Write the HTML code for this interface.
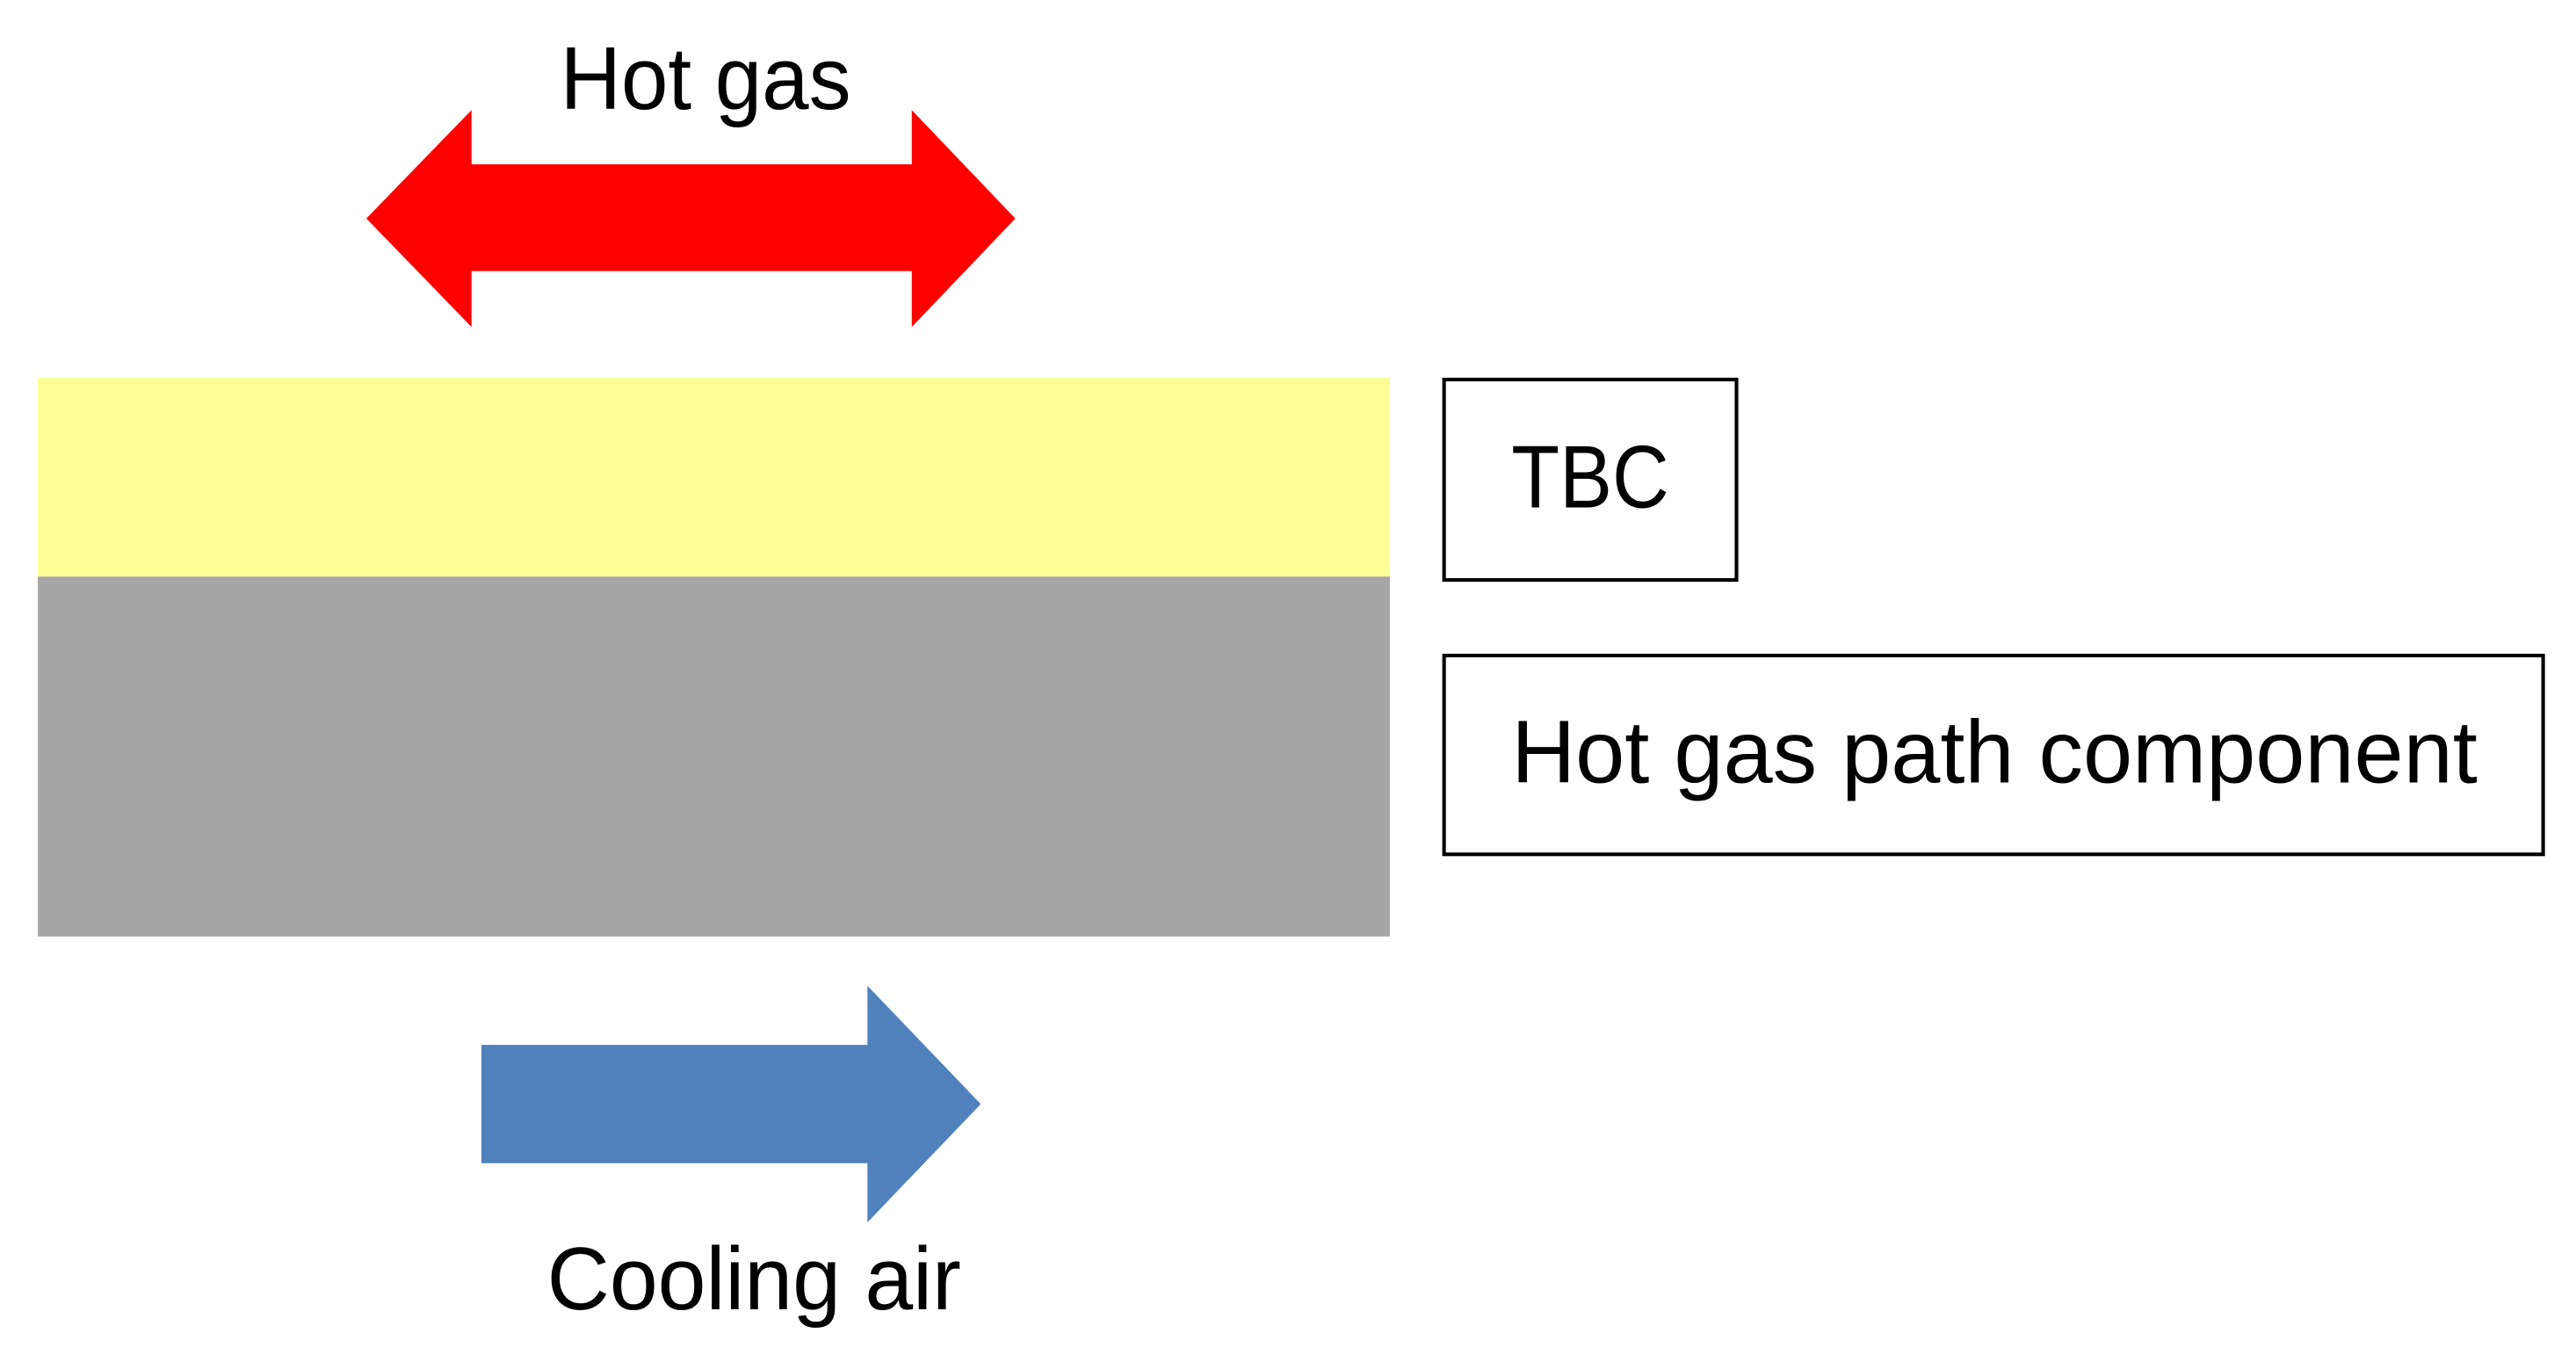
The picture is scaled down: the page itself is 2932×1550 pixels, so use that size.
<!DOCTYPE html>
<html><head><meta charset="utf-8"><style>
html,body{margin:0;padding:0;background:#fff;width:2932px;height:1550px;overflow:hidden}
svg{display:block}
text{font-family:"Liberation Sans",sans-serif;fill:#000}
</style></head><body>
<svg width="2932" height="1550" viewBox="0 0 1568 829" preserveAspectRatio="none" xmlns="http://www.w3.org/2000/svg">
<rect x="0" y="0" width="1568" height="829" fill="#fff"/>
<polygon points="223,133 287,67 287,100 555,100 555,67 618,133 555,199 555,165 287,165 287,199" fill="#ff0000"/>
<rect x="23" y="230" width="823" height="121" fill="#fdfd96"/>
<rect x="23" y="351" width="823" height="219" fill="#a6a6a6"/>
<rect x="879" y="231" width="178" height="122" fill="#fff" stroke="#000" stroke-width="2.2"/>
<rect x="879" y="399" width="669" height="121" fill="#fff" stroke="#000" stroke-width="2.2"/>
<polygon points="293,636 528,636 528,600 597,672 528,744 528,708 293,708" fill="#4f81bd"/>
<g transform="scale(1,1.08)">
<text x="341" y="61.5" font-size="50" textLength="177" lengthAdjust="spacingAndGlyphs">Hot gas</text>
<text x="920" y="286" font-size="50" textLength="96" lengthAdjust="spacingAndGlyphs">TBC</text>
<text x="920" y="441" font-size="50" textLength="588" lengthAdjust="spacingAndGlyphs">Hot gas path component</text>
<text x="333" y="738" font-size="50" textLength="252" lengthAdjust="spacingAndGlyphs">Cooling air</text>
</g>
</svg>
</body></html>
